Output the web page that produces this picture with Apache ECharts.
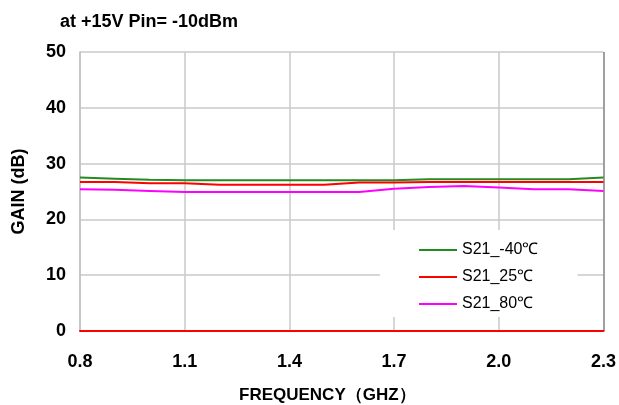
<!DOCTYPE html>
<html>
<head>
<meta charset="utf-8">
<script src="https://cdn.jsdelivr.net/npm/echarts@6/dist/echarts.min.js"></script>
<style>html,body{margin:0;padding:0;background:#fff}#c{width:619px;height:405px}</style>
</head>
<body>
<div id="c"></div>
<script>
const freq = [0.8,0.9,1.0,1.1,1.2,1.3,1.4,1.5,1.6,1.7,1.8,1.9,2.0,2.1,2.2,2.3];
const s21_m40 = [27.5,27.3,27.1,27.0,27.0,27.0,27.0,27.0,27.0,27.0,27.2,27.2,27.2,27.2,27.2,27.5];
const s21_25  = [26.7,26.7,26.5,26.5,26.2,26.2,26.2,26.2,26.6,26.6,26.7,26.7,26.7,26.7,26.7,26.7];
const s21_80  = [25.4,25.3,25.1,24.9,24.9,24.9,24.9,24.9,24.9,25.5,25.8,26.0,25.7,25.4,25.4,25.1];
const seriesNames = ['S21_-40℃','S21_25℃','S21_80℃'];
const yTicks = [0,10,20,30,40,50];
const xTicks = [0.8,1.1,1.4,1.7,2.0,2.3];

const F = '"Liberation Sans", Arial, sans-serif';
const pair = (xs, ys) => xs.map((x,i)=>[x, ys[i]]);
const chart = echarts.init(document.getElementById('c'), null, {renderer:'canvas'});
chart.setOption({
  animation:false,
  title:[
    {text:'at +15V Pin= -10dBm', left:55, top:8, textStyle:{fontFamily:F, fontWeight:'bold', fontSize:18, color:'#000'}},
    {text:'FREQUENCY（GHZ）', left:234, top:382, textStyle:{fontFamily:F, fontWeight:'bold', fontSize:17, color:'#000'}}
  ],
  grid:{left:80, right:12, top:52, bottom:74},
  legend:{
    orient:'vertical', left:380, top:230,
    backgroundColor:'#fff',
    padding:[12,39,5,39],
    icon:'rect',
    itemWidth:38, itemHeight:2, itemGap:11,
    textStyle:{fontFamily:F, fontSize:16, color:'#000'},
    data:seriesNames
  },
  xAxis:{
    type:'value', min:xTicks[0], max:xTicks[xTicks.length-1], interval:0.3,
    axisLine:{show:true, onZero:false, lineStyle:{color:'#ff0000', width:2}},
    axisTick:{show:false},
    axisLabel:{fontFamily:F, fontWeight:'bold', fontSize:18, color:'#000', margin:22,
      formatter:v=>v.toFixed(1)},
    splitLine:{show:true, lineStyle:{color:['#c8c8c8','#c8c8c8','#c8c8c8','#c8c8c8','#c8c8c8','#808080'], width:1.5}}
  },
  yAxis:{
    type:'value', min:yTicks[0], max:yTicks[yTicks.length-1], interval:10,
    name:'GAIN (dB)', nameLocation:'middle', nameGap:52,
    nameTextStyle:{fontFamily:F, fontWeight:'bold', fontSize:18, color:'#000'},
    axisLine:{show:true, lineStyle:{color:'#c0c0c0', width:1.5}},
    axisTick:{show:false},
    axisLabel:{fontFamily:F, fontWeight:'bold', fontSize:18, color:'#000', margin:14},
    splitLine:{show:true, lineStyle:{color:'#c8c8c8', width:1.5}}
  },
  series:[
    {name:seriesNames[0], type:'line', data:pair(freq,s21_m40), symbol:'none', smooth:false,
     lineStyle:{color:'#228b22', width:2}, itemStyle:{color:'#228b22'}},
    {name:seriesNames[1], type:'line', data:pair(freq,s21_25), symbol:'none',
     lineStyle:{color:'#ff0000', width:2}, itemStyle:{color:'#ff0000'}},
    {name:seriesNames[2], type:'line', data:pair(freq,s21_80), symbol:'none',
     lineStyle:{color:'#ff00ff', width:2}, itemStyle:{color:'#ff00ff'}}
  ]
});
</script>
</body>
</html>
